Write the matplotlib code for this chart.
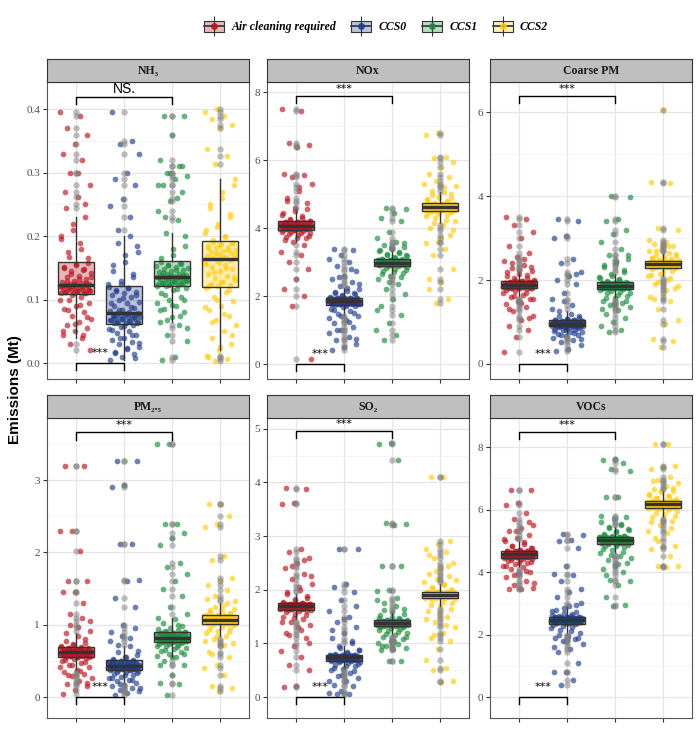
import numpy as np
import matplotlib
matplotlib.use('Agg')
import matplotlib.pyplot as plt
from matplotlib.patches import Patch
from matplotlib.lines import Line2D
from matplotlib.legend_handler import HandlerTuple
from matplotlib.ticker import FixedLocator, MultipleLocator

plt.rcParams['font.family'] = ['Liberation Serif', 'DejaVu Serif']

SCENARIOS = ['Air cleaning required', 'CCS0', 'CCS1', 'CCS2']
POLLUTANTS = ['NH₃', 'NOx', 'Coarse PM', 'PM₂.₅', 'SO₂', 'VOCs']
COLORS = ['#B8141F', '#1F3C8C', '#1A8A3C', '#FFCC11']

# ---------------- data (Mt) ----------------
NH3_AIR = [0.395, 0.39, 0.37, 0.36, 0.345, 0.33, 0.32, 0.30, 0.28, 0.262, 0.245, 0.23, 0.21, 0.195, 0.18, 0.168,
           0.158, 0.155, 0.152, 0.148, 0.145, 0.142, 0.138, 0.135, 0.132, 0.13, 0.128, 0.126, 0.125, 0.124, 0.124, 0.123,
           0.123, 0.122, 0.121, 0.12, 0.12, 0.119, 0.118, 0.117, 0.116, 0.115, 0.114, 0.113, 0.112, 0.111, 0.110, 0.110,
           0.105, 0.10, 0.095, 0.09, 0.085, 0.08, 0.075, 0.07, 0.065, 0.06, 0.055, 0.05, 0.045, 0.04, 0.03, 0.02,
           0.30, 0.27, 0.25, 0.22, 0.2, 0.19, 0.175, 0.165,
           0.157, 0.15, 0.146, 0.14, 0.136, 0.133, 0.129, 0.127, 0.124, 0.122, 0.12, 0.118, 0.116, 0.114, 0.112, 0.111,
           0.108, 0.1, 0.092, 0.083, 0.072, 0.062, 0.05, 0.045]
NH3_CCS0 = [0.395, 0.35, 0.345, 0.33, 0.30, 0.29, 0.28, 0.258, 0.248, 0.20, 0.19, 0.175, 0.16, 0.145, 0.135, 0.125,
            0.12, 0.118, 0.115, 0.112, 0.11, 0.107, 0.104, 0.1, 0.097, 0.094, 0.09, 0.087, 0.084, 0.082, 0.08, 0.079,
            0.078, 0.077, 0.076, 0.075, 0.074, 0.073, 0.072, 0.071, 0.07, 0.069, 0.068, 0.067, 0.066, 0.065, 0.064, 0.063,
            0.06, 0.057, 0.054, 0.05, 0.047, 0.044, 0.04, 0.037, 0.034, 0.03, 0.026, 0.022, 0.018, 0.014, 0.01, 0.005,
            0.23, 0.21, 0.185, 0.17, 0.155, 0.14, 0.13, 0.124,
            0.119, 0.113, 0.108, 0.102, 0.095, 0.088, 0.083, 0.079, 0.077, 0.075, 0.072, 0.07, 0.068, 0.066, 0.064, 0.063,
            0.058, 0.052, 0.045, 0.039, 0.032, 0.024, 0.016, 0.008]
NH3_CCS1 = [0.39, 0.39, 0.36, 0.32, 0.31, 0.30, 0.295, 0.29, 0.28, 0.27, 0.255, 0.24, 0.225, 0.205, 0.185, 0.17,
            0.159, 0.157, 0.155, 0.153, 0.151, 0.149, 0.147, 0.145, 0.143, 0.141, 0.14, 0.139, 0.138, 0.138, 0.137, 0.137,
            0.136, 0.136, 0.135, 0.134, 0.133, 0.132, 0.131, 0.13, 0.129, 0.128, 0.127, 0.126, 0.125, 0.124, 0.123, 0.122,
            0.118, 0.115, 0.11, 0.105, 0.10, 0.095, 0.09, 0.085, 0.08, 0.072, 0.065, 0.06, 0.045, 0.035, 0.01, 0.005,
            0.31, 0.30, 0.28, 0.26, 0.23, 0.2, 0.18, 0.165,
            0.158, 0.154, 0.15, 0.146, 0.142, 0.139, 0.137, 0.136, 0.135, 0.133, 0.131, 0.129, 0.127, 0.125, 0.123, 0.122,
            0.117, 0.108, 0.1, 0.092, 0.083, 0.075, 0.068, 0.055]
NH3_CCS2 = [0.40, 0.395, 0.39, 0.385, 0.375, 0.37, 0.338, 0.327, 0.314, 0.29, 0.27, 0.25, 0.235, 0.22, 0.21, 0.20,
            0.191, 0.189, 0.187, 0.185, 0.183, 0.181, 0.179, 0.177, 0.175, 0.173, 0.171, 0.169, 0.167, 0.166, 0.165, 0.164,
            0.164, 0.163, 0.161, 0.158, 0.155, 0.152, 0.149, 0.145, 0.141, 0.137, 0.134, 0.131, 0.128, 0.125, 0.123, 0.121,
            0.118, 0.112, 0.105, 0.098, 0.09, 0.083, 0.075, 0.068, 0.06, 0.05, 0.04, 0.03, 0.02, 0.012, 0.006, 0.004,
            0.28, 0.26, 0.245, 0.23, 0.215, 0.205, 0.198, 0.194,
            0.19, 0.186, 0.182, 0.178, 0.174, 0.17, 0.167, 0.165, 0.163, 0.16, 0.156, 0.15, 0.143, 0.135, 0.128, 0.122,
            0.115, 0.1, 0.088, 0.078, 0.065, 0.045, 0.025, 0.01]

NOX_AIR = [7.5, 7.45, 6.5, 6.45, 6.4, 5.6, 5.55, 5.5, 5.3, 5.1, 4.9, 4.75, 4.6, 4.45, 4.35, 4.25,
           4.2, 4.19, 4.18, 4.17, 4.16, 4.15, 4.14, 4.13, 4.12, 4.11, 4.1, 4.09, 4.08, 4.08, 4.07, 4.07,
           4.06, 4.06, 4.05, 4.04, 4.03, 4.02, 4.01, 4.0, 3.99, 3.98, 3.98, 3.97, 3.96, 3.96, 3.95, 3.95,
           3.92, 3.88, 3.85, 3.8, 3.75, 3.7, 3.6, 3.3, 3.2, 3.0, 2.8, 2.5, 2.2, 2.0, 1.7, 0.15,
           5.2, 4.8, 4.55, 4.5, 4.4, 4.3, 4.28, 4.22,
           4.19, 4.17, 4.15, 4.13, 4.11, 4.09, 4.08, 4.07, 4.06, 4.05, 4.03, 4.01, 3.99, 3.98, 3.97, 3.96,
           3.93, 3.9, 3.87, 3.82, 3.78, 3.72, 3.65, 3.5]
NOX_CCS0 = [3.4, 3.35, 3.2, 3.1, 3.0, 2.9, 2.75, 2.6, 2.5, 2.4, 2.3, 2.2, 2.15, 2.1, 2.05, 2.0,
            1.95, 1.945, 1.94, 1.935, 1.93, 1.92, 1.91, 1.9, 1.9, 1.89, 1.88, 1.88, 1.87, 1.87, 1.86, 1.86,
            1.86, 1.85, 1.85, 1.84, 1.83, 1.82, 1.81, 1.8, 1.79, 1.78, 1.78, 1.77, 1.77, 1.76, 1.76, 1.75,
            1.72, 1.68, 1.62, 1.55, 1.48, 1.4, 1.3, 1.2, 1.1, 1.0, 0.9, 0.8, 0.7, 0.6, 0.5, 0.4,
            2.8, 2.55, 2.35, 2.25, 2.12, 2.08, 2.02, 1.98,
            1.95, 1.94, 1.92, 1.91, 1.9, 1.89, 1.87, 1.86, 1.86, 1.85, 1.84, 1.82, 1.8, 1.79, 1.77, 1.76,
            1.7, 1.6, 1.5, 1.42, 1.35, 1.25, 1.0, 0.75]
NOX_CCS1 = [4.6, 4.55, 4.45, 4.3, 4.2, 3.9, 3.7, 3.6, 3.5, 3.45, 3.4, 3.35, 3.3, 3.25, 3.18, 3.12,
            3.08, 3.07, 3.07, 3.06, 3.05, 3.04, 3.04, 3.03, 3.02, 3.01, 3.0, 3.0, 2.99, 2.99, 2.98, 2.98,
            2.98, 2.97, 2.97, 2.96, 2.96, 2.95, 2.95, 2.94, 2.94, 2.93, 2.93, 2.92, 2.92, 2.91, 2.91, 2.9,
            2.85, 2.8, 2.75, 2.68, 2.6, 2.5, 2.35, 2.2, 2.05, 1.9, 1.7, 1.45, 1.2, 1.0, 0.85, 0.7,
            3.55, 3.42, 3.32, 3.28, 3.22, 3.2, 3.15, 3.1,
            3.08, 3.06, 3.05, 3.03, 3.02, 3.0, 2.99, 2.98, 2.98, 2.97, 2.96, 2.95, 2.94, 2.93, 2.92, 2.91,
            2.88, 2.82, 2.78, 2.7, 2.65, 2.55, 2.4, 1.6]
NOX_CCS2 = [6.8, 6.75, 6.1, 6.05, 5.95, 5.8, 5.6, 5.5, 5.4, 5.3, 5.2, 5.1, 5.0, 4.95, 4.85, 4.78,
            4.72, 4.71, 4.7, 4.7, 4.69, 4.68, 4.67, 4.66, 4.66, 4.65, 4.64, 4.63, 4.63, 4.62, 4.62, 4.61,
            4.61, 4.6, 4.6, 4.59, 4.58, 4.57, 4.56, 4.55, 4.55, 4.54, 4.53, 4.52, 4.52, 4.51, 4.51, 4.5,
            4.45, 4.4, 4.3, 4.2, 4.1, 4.0, 3.8, 3.6, 3.55, 3.4, 3.2, 2.8, 2.4, 2.2, 1.9, 1.8,
            5.25, 5.05, 4.98, 4.9, 4.88, 4.82, 4.8, 4.75,
            4.72, 4.7, 4.69, 4.67, 4.65, 4.64, 4.62, 4.61, 4.6, 4.59, 4.57, 4.55, 4.54, 4.53, 4.52, 4.5,
            4.48, 4.42, 4.35, 4.25, 4.15, 3.95, 3.7, 2.5]

CPM_AIR = [3.5, 3.45, 3.3, 3.15, 3.0, 2.8, 2.65, 2.55, 2.45, 2.35, 2.28, 2.22, 2.15, 2.1, 2.05, 2.0,
           1.98, 1.97, 1.96, 1.95, 1.95, 1.94, 1.93, 1.92, 1.92, 1.91, 1.9, 1.9, 1.89, 1.89, 1.88, 1.88,
           1.88, 1.87, 1.87, 1.86, 1.86, 1.85, 1.85, 1.84, 1.84, 1.83, 1.83, 1.83, 1.82, 1.82, 1.82, 1.82,
           1.78, 1.74, 1.7, 1.65, 1.6, 1.55, 1.5, 1.42, 1.35, 1.25, 1.15, 1.05, 0.9, 0.8, 0.65, 0.28,
           2.5, 2.4, 2.3, 2.25, 2.18, 2.12, 2.05, 2.01,
           1.98, 1.96, 1.95, 1.93, 1.92, 1.9, 1.89, 1.88, 1.88, 1.87, 1.86, 1.85, 1.84, 1.83, 1.82, 1.82,
           1.8, 1.75, 1.7, 1.62, 1.55, 1.45, 1.3, 1.1]
CPM_CCS0 = [3.45, 3.4, 3.05, 3.0, 2.5, 2.4, 2.2, 2.1, 2.0, 1.9, 1.7, 1.55, 1.4, 1.25, 1.15, 1.08,
            1.04, 1.035, 1.03, 1.025, 1.02, 1.01, 1.0, 1.0, 0.99, 0.99, 0.98, 0.98, 0.97, 0.97, 0.965, 0.96,
            0.96, 0.955, 0.95, 0.95, 0.94, 0.94, 0.93, 0.93, 0.92, 0.92, 0.915, 0.91, 0.91, 0.905, 0.9, 0.9,
            0.88, 0.86, 0.84, 0.82, 0.8, 0.77, 0.75, 0.72, 0.7, 0.66, 0.62, 0.58, 0.52, 0.45, 0.35, 0.3,
            2.15, 1.5, 1.3, 1.2, 1.15, 1.1, 1.07, 1.05,
            1.04, 1.03, 1.02, 1.01, 1.0, 0.99, 0.98, 0.97, 0.96, 0.95, 0.94, 0.93, 0.92, 0.91, 0.9, 0.9,
            0.89, 0.87, 0.85, 0.82, 0.78, 0.74, 0.68, 0.6]
CPM_CCS1 = [4.0, 3.98, 3.45, 3.4, 3.2, 3.1, 2.9, 2.75, 2.6, 2.5, 2.4, 2.3, 2.2, 2.1, 2.05, 2.0,
            1.95, 1.94, 1.94, 1.93, 1.92, 1.92, 1.91, 1.9, 1.9, 1.89, 1.89, 1.88, 1.88, 1.87, 1.87, 1.86,
            1.86, 1.86, 1.85, 1.85, 1.84, 1.84, 1.83, 1.83, 1.82, 1.82, 1.81, 1.81, 1.81, 1.8, 1.8, 1.8,
            1.76, 1.72, 1.68, 1.62, 1.56, 1.5, 1.45, 1.4, 1.35, 1.28, 1.2, 1.1, 1.0, 0.9, 0.82, 0.75,
            2.6, 2.45, 2.35, 2.25, 2.15, 2.08, 2.02, 1.97,
            1.95, 1.94, 1.92, 1.91, 1.9, 1.89, 1.88, 1.87, 1.86, 1.85, 1.84, 1.83, 1.82, 1.81, 1.8, 1.8,
            1.78, 1.74, 1.7, 1.64, 1.58, 1.5, 1.42, 1.3]
CPM_CCS2 = [6.05, 4.33, 4.32, 3.25, 3.2, 2.9, 2.85, 2.8, 2.75, 2.7, 2.65, 2.6, 2.58, 2.55, 2.52, 2.48,
            2.45, 2.45, 2.44, 2.44, 2.43, 2.43, 2.42, 2.42, 2.41, 2.41, 2.4, 2.4, 2.39, 2.39, 2.385, 2.38,
            2.38, 2.375, 2.37, 2.37, 2.36, 2.36, 2.35, 2.35, 2.34, 2.34, 2.33, 2.33, 2.32, 2.31, 2.31, 2.3,
            2.26, 2.22, 2.15, 2.1, 2.0, 1.9, 1.8, 1.7, 1.6, 1.5, 1.3, 1.05, 0.95, 0.6, 0.55, 0.4,
            2.95, 2.8, 2.7, 2.62, 2.56, 2.52, 2.5, 2.47,
            2.45, 2.44, 2.43, 2.42, 2.41, 2.4, 2.39, 2.38, 2.38, 2.37, 2.36, 2.35, 2.34, 2.33, 2.32, 2.3,
            2.28, 2.2, 2.12, 2.05, 1.95, 1.85, 1.75, 1.55]

PM25_AIR = [3.2, 3.2, 2.3, 2.3, 2.02, 1.6, 1.6, 1.45, 1.45, 1.3, 1.15, 1.05, 0.97, 0.88, 0.8, 0.73,
            0.69, 0.685, 0.68, 0.675, 0.67, 0.665, 0.66, 0.655, 0.65, 0.645, 0.64, 0.635, 0.63, 0.63, 0.625, 0.62,
            0.62, 0.615, 0.61, 0.605, 0.6, 0.6, 0.595, 0.59, 0.585, 0.58, 0.58, 0.575, 0.57, 0.565, 0.56, 0.56,
            0.54, 0.52, 0.5, 0.47, 0.44, 0.41, 0.38, 0.35, 0.32, 0.29, 0.26, 0.22, 0.18, 0.15, 0.1, 0.04,
            1.1, 1.0, 0.92, 0.85, 0.78, 0.75, 0.72, 0.7,
            0.69, 0.68, 0.67, 0.66, 0.65, 0.64, 0.63, 0.62, 0.62, 0.61, 0.6, 0.59, 0.58, 0.57, 0.565, 0.56,
            0.55, 0.51, 0.48, 0.45, 0.42, 0.36, 0.3, 0.2]
PM25_CCS0 = [3.27, 3.27, 2.93, 2.9, 2.12, 2.12, 1.62, 1.6, 1.37, 1.25, 1.0, 0.9, 0.82, 0.72, 0.64, 0.56,
             0.51, 0.505, 0.5, 0.49, 0.485, 0.48, 0.47, 0.465, 0.46, 0.455, 0.45, 0.445, 0.44, 0.435, 0.435, 0.43,
             0.43, 0.425, 0.42, 0.42, 0.415, 0.41, 0.405, 0.4, 0.4, 0.395, 0.39, 0.39, 0.385, 0.385, 0.38, 0.38,
             0.36, 0.34, 0.32, 0.3, 0.28, 0.26, 0.24, 0.22, 0.2, 0.17, 0.15, 0.12, 0.1, 0.08, 0.05, 0.03,
             0.95, 0.85, 0.78, 0.7, 0.62, 0.58, 0.55, 0.52,
             0.51, 0.5, 0.49, 0.48, 0.47, 0.46, 0.45, 0.44, 0.43, 0.43, 0.42, 0.41, 0.4, 0.39, 0.385, 0.38,
             0.37, 0.35, 0.33, 0.3, 0.27, 0.23, 0.18, 0.12]
PM25_CCS1 = [3.5, 3.5, 2.4, 2.4, 2.27, 2.2, 2.1, 1.85, 1.8, 1.7, 1.6, 1.5, 1.4, 1.25, 1.1, 1.0,
             0.9, 0.895, 0.89, 0.885, 0.88, 0.875, 0.87, 0.86, 0.855, 0.85, 0.845, 0.84, 0.835, 0.83, 0.82, 0.815,
             0.81, 0.805, 0.8, 0.8, 0.795, 0.79, 0.79, 0.785, 0.78, 0.78, 0.775, 0.77, 0.77, 0.765, 0.76, 0.76,
             0.74, 0.72, 0.7, 0.68, 0.66, 0.64, 0.62, 0.6, 0.57, 0.55, 0.5, 0.45, 0.3, 0.2, 0.18, 0.03,
             1.15, 1.08, 1.02, 0.98, 0.96, 0.94, 0.93, 0.91,
             0.9, 0.89, 0.88, 0.87, 0.86, 0.85, 0.84, 0.83, 0.82, 0.81, 0.8, 0.79, 0.78, 0.77, 0.765, 0.76,
             0.75, 0.73, 0.71, 0.69, 0.65, 0.6, 0.55, 0.45]
PM25_CCS2 = [2.67, 2.67, 2.5, 2.4, 2.35, 1.95, 1.9, 1.65, 1.6, 1.55, 1.48, 1.4, 1.33, 1.26, 1.2, 1.16,
             1.13, 1.125, 1.12, 1.115, 1.11, 1.105, 1.1, 1.1, 1.095, 1.09, 1.09, 1.085, 1.08, 1.08, 1.075, 1.07,
             1.07, 1.065, 1.06, 1.06, 1.055, 1.05, 1.05, 1.045, 1.04, 1.04, 1.035, 1.03, 1.025, 1.02, 1.015, 1.01,
             0.98, 0.95, 0.92, 0.88, 0.84, 0.8, 0.75, 0.7, 0.62, 0.55, 0.45, 0.4, 0.3, 0.15, 0.13, 0.08,
             1.35, 1.3, 1.25, 1.22, 1.19, 1.17, 1.15, 1.14,
             1.13, 1.12, 1.11, 1.1, 1.09, 1.085, 1.08, 1.075, 1.07, 1.065, 1.06, 1.05, 1.04, 1.03, 1.02, 1.01,
             1.0, 0.97, 0.93, 0.9, 0.85, 0.78, 0.72, 0.6]

SO2_AIR = [3.9, 3.88, 3.62, 3.6, 2.75, 2.7, 2.6, 2.5, 2.4, 2.3, 2.2, 2.1, 2.0, 1.92, 1.85, 1.79,
           1.75, 1.745, 1.74, 1.74, 1.735, 1.73, 1.73, 1.725, 1.72, 1.72, 1.715, 1.71, 1.71, 1.705, 1.705, 1.7,
           1.7, 1.695, 1.69, 1.69, 1.685, 1.68, 1.68, 1.675, 1.67, 1.665, 1.66, 1.655, 1.65, 1.645, 1.64, 1.63,
           1.6, 1.55, 1.5, 1.45, 1.4, 1.35, 1.3, 1.2, 1.1, 0.95, 0.85, 0.75, 0.6, 0.5, 0.2, 0.18,
           2.55, 2.45, 2.25, 2.05, 1.95, 1.88, 1.82, 1.77,
           1.75, 1.74, 1.73, 1.72, 1.72, 1.71, 1.705, 1.7, 1.7, 1.69, 1.68, 1.67, 1.66, 1.65, 1.64, 1.63,
           1.61, 1.58, 1.52, 1.47, 1.4, 1.25, 1.15, 1.0]
SO2_CCS0 = [2.76, 2.75, 2.1, 2.05, 1.95, 1.8, 1.6, 1.5, 1.4, 1.3, 1.2, 1.1, 1.0, 0.92, 0.87, 0.82,
            0.79, 0.785, 0.78, 0.78, 0.775, 0.77, 0.77, 0.765, 0.76, 0.76, 0.755, 0.75, 0.75, 0.745, 0.745, 0.74,
            0.74, 0.735, 0.73, 0.73, 0.725, 0.72, 0.715, 0.71, 0.705, 0.7, 0.7, 0.695, 0.69, 0.69, 0.685, 0.68,
            0.66, 0.63, 0.6, 0.57, 0.53, 0.5, 0.45, 0.4, 0.35, 0.3, 0.22, 0.2, 0.12, 0.08, 0.05, 0.05,
            1.7, 1.45, 1.25, 1.05, 0.95, 0.88, 0.84, 0.8,
            0.79, 0.78, 0.775, 0.77, 0.76, 0.755, 0.75, 0.745, 0.74, 0.735, 0.73, 0.72, 0.71, 0.7, 0.69, 0.68,
            0.67, 0.65, 0.62, 0.58, 0.55, 0.48, 0.42, 0.3]
SO2_CCS1 = [4.74, 4.72, 4.42, 3.25, 3.22, 3.2, 2.45, 2.44, 2.0, 1.98, 1.85, 1.75, 1.65, 1.58, 1.52, 1.47,
            1.43, 1.425, 1.42, 1.42, 1.415, 1.41, 1.41, 1.405, 1.4, 1.4, 1.395, 1.39, 1.39, 1.385, 1.385, 1.38,
            1.38, 1.375, 1.37, 1.37, 1.365, 1.36, 1.36, 1.355, 1.35, 1.345, 1.34, 1.335, 1.33, 1.33, 1.325, 1.32,
            1.3, 1.27, 1.24, 1.2, 1.16, 1.12, 1.08, 1.04, 1.0, 0.98, 0.95, 0.92, 0.9, 0.88, 0.68, 0.67,
            1.8, 1.7, 1.62, 1.55, 1.5, 1.48, 1.46, 1.44,
            1.43, 1.42, 1.415, 1.41, 1.4, 1.395, 1.39, 1.385, 1.38, 1.375, 1.37, 1.36, 1.35, 1.34, 1.33, 1.32,
            1.31, 1.28, 1.25, 1.22, 1.18, 1.12, 1.05, 0.95]
SO2_CCS2 = [4.1, 4.1, 2.9, 2.85, 2.75, 2.7, 2.6, 2.5, 2.4, 2.3, 2.25, 2.2, 2.15, 2.1, 2.05, 2.0,
            1.96, 1.955, 1.95, 1.95, 1.945, 1.94, 1.94, 1.935, 1.93, 1.93, 1.925, 1.92, 1.92, 1.915, 1.915, 1.91,
            1.91, 1.905, 1.9, 1.9, 1.895, 1.89, 1.89, 1.885, 1.88, 1.875, 1.87, 1.865, 1.86, 1.86, 1.855, 1.85,
            1.8, 1.75, 1.7, 1.6, 1.5, 1.4, 1.3, 1.2, 1.1, 1.05, 0.9, 0.7, 0.55, 0.5, 0.3, 0.29,
            2.65, 2.45, 2.35, 2.18, 2.08, 2.03, 1.99, 1.97,
            1.96, 1.95, 1.945, 1.94, 1.93, 1.925, 1.92, 1.915, 1.91, 1.905, 1.9, 1.89, 1.88, 1.87, 1.86, 1.85,
            1.82, 1.78, 1.72, 1.65, 1.55, 1.45, 1.35, 1.15]

VOC_AIR = [6.64, 6.62, 6.2, 6.15, 5.9, 5.7, 5.5, 5.4, 5.3, 5.2, 5.1, 5.0, 4.95, 4.85, 4.78, 4.72,
           4.67, 4.66, 4.66, 4.65, 4.64, 4.63, 4.63, 4.62, 4.61, 4.61, 4.6, 4.59, 4.59, 4.58, 4.57, 4.57,
           4.56, 4.55, 4.55, 4.54, 4.53, 4.53, 4.52, 4.51, 4.51, 4.5, 4.49, 4.49, 4.48, 4.47, 4.47, 4.46,
           4.42, 4.38, 4.35, 4.3, 4.25, 4.2, 4.15, 4.1, 4.0, 3.95, 3.85, 3.7, 3.6, 3.5, 3.47, 3.45,
           5.6, 5.3, 5.05, 4.9, 4.82, 4.76, 4.72, 4.69,
           4.67, 4.66, 4.65, 4.63, 4.62, 4.6, 4.59, 4.57, 4.56, 4.55, 4.53, 4.51, 4.5, 4.48, 4.47, 4.46,
           4.43, 4.4, 4.33, 4.28, 4.18, 4.05, 3.9, 3.65]
VOC_CCS0 = [5.21, 5.2, 5.02, 4.98, 4.78, 4.2, 3.95, 3.9, 3.7, 3.45, 3.35, 3.2, 2.95, 2.85, 2.75, 2.65,
            2.57, 2.56, 2.56, 2.55, 2.54, 2.53, 2.53, 2.52, 2.51, 2.51, 2.5, 2.49, 2.49, 2.48, 2.48, 2.47,
            2.47, 2.46, 2.45, 2.45, 2.44, 2.43, 2.43, 2.42, 2.41, 2.4, 2.4, 2.39, 2.38, 2.38, 2.37, 2.36,
            2.3, 2.25, 2.15, 2.05, 1.95, 1.9, 1.85, 1.8, 1.7, 1.55, 1.45, 1.1, 0.8, 0.8, 0.55, 0.38,
            3.0, 2.9, 2.8, 2.72, 2.68, 2.62, 2.6, 2.58,
            2.57, 2.56, 2.55, 2.54, 2.52, 2.51, 2.5, 2.48, 2.47, 2.46, 2.44, 2.42, 2.4, 2.39, 2.37, 2.36,
            2.33, 2.28, 2.2, 2.1, 2.0, 1.9, 1.8, 1.6]
VOC_CCS1 = [7.63, 7.6, 7.5, 7.3, 7.25, 6.4, 6.4, 5.75, 5.7, 5.6, 5.5, 5.4, 5.35, 5.3, 5.22, 5.17,
            5.13, 5.12, 5.12, 5.11, 5.1, 5.09, 5.09, 5.08, 5.07, 5.06, 5.06, 5.05, 5.04, 5.04, 5.03, 5.03,
            5.02, 5.01, 5.0, 5.0, 4.99, 4.98, 4.98, 4.97, 4.96, 4.95, 4.95, 4.94, 4.93, 4.93, 4.92, 4.91,
            4.85, 4.8, 4.7, 4.6, 4.5, 4.4, 4.3, 4.2, 4.1, 4.0, 3.75, 3.7, 3.6, 3.2, 2.95, 2.91,
            5.8, 5.55, 5.45, 5.38, 5.28, 5.2, 5.16, 5.14,
            5.13, 5.12, 5.1, 5.09, 5.07, 5.06, 5.04, 5.03, 5.02, 5.01, 4.99, 4.97, 4.95, 4.94, 4.92, 4.91,
            4.88, 4.83, 4.75, 4.65, 4.55, 4.45, 4.25, 3.9]
VOC_CCS2 = [8.1, 8.1, 7.4, 7.35, 7.3, 7.05, 6.95, 6.85, 6.75, 6.65, 6.6, 6.55, 6.48, 6.42, 6.36, 6.31,
            6.27, 6.26, 6.26, 6.25, 6.24, 6.23, 6.23, 6.22, 6.21, 6.21, 6.2, 6.19, 6.19, 6.18, 6.18, 6.17,
            6.17, 6.16, 6.15, 6.15, 6.14, 6.13, 6.13, 6.12, 6.11, 6.1, 6.1, 6.09, 6.08, 6.08, 6.07, 6.06,
            6.02, 5.95, 5.85, 5.75, 5.65, 5.5, 5.3, 5.25, 5.1, 4.85, 4.8, 4.75, 4.5, 4.2, 4.18, 4.15,
            6.9, 6.7, 6.58, 6.5, 6.45, 6.38, 6.33, 6.29,
            6.27, 6.26, 6.25, 6.24, 6.22, 6.21, 6.2, 6.18, 6.17, 6.16, 6.14, 6.12, 6.1, 6.09, 6.07, 6.06,
            6.04, 5.98, 5.9, 5.8, 5.7, 5.6, 5.4, 5.0]

PANEL_DATA = [
    [NH3_AIR, NH3_CCS0, NH3_CCS1, NH3_CCS2],
    [NOX_AIR, NOX_CCS0, NOX_CCS1, NOX_CCS2],
    [CPM_AIR, CPM_CCS0, CPM_CCS1, CPM_CCS2],
    [PM25_AIR, PM25_CCS0, PM25_CCS1, PM25_CCS2],
    [SO2_AIR, SO2_CCS0, SO2_CCS1, SO2_CCS2],
    [VOC_AIR, VOC_CCS0, VOC_CCS1, VOC_CCS2],
]
TOP_SIG = ['NS.', '***', '***', '***', '***', '***']
BOTTOM_SIG = ['***', '***', '***', '***', '***', '***']
Y_TICKS = [[0.0, 0.1, 0.2, 0.3, 0.4], [0, 2, 4, 6, 8], [0, 2, 4, 6],
           [0, 1, 2, 3], [0, 1, 2, 3, 4, 5], [0, 2, 4, 6, 8]]
Y_TICK_LABELS = [['0.0', '0.1', '0.2', '0.3', '0.4'], ['0', '2', '4', '6', '8'], ['0', '2', '4', '6'],
                 ['0', '1', '2', '3'], ['0', '1', '2', '3', '4', '5'], ['0', '2', '4', '6', '8']]

# ---------------- layout (style) ----------------
Y_LIMS = [(-0.025, 0.443), (-0.44, 8.3), (-0.36, 6.72), (-0.29, 3.86), (-0.39, 5.2), (-0.67, 8.93)]
BRACKET_Y = [0.42, 7.88, 6.38, 3.66, 4.96, 8.48]

W, H = 700, 748
fig = plt.figure(figsize=(W / 100, H / 100), dpi=100)
COLS = [(47, 249), (267, 469), (490, 692)]
ROWS = [(59, 82, 379), (395, 418, 718)]


def px_axes(l, t, r, b):
    return fig.add_axes([l / W, 1 - b / H, (r - l) / W, (b - t) / H])


def jitter(n, shift):
    return ((np.arange(n) * 0.6180339887 + shift) % 1.0 - 0.5) * 0.66


DARK = '#333333'
positions = [1, 2, 3, 4]
for i, groups in enumerate(PANEL_DATA):
    r, c = divmod(i, 3)
    l, rr = COLS[c]
    st, t, b = ROWS[r]
    ax = px_axes(l, t, rr, b)
    sax = px_axes(l, st, rr, t)

    # strip
    sax.set_facecolor('#BFBFBF')
    sax.set_xticks([]); sax.set_yticks([])
    for sp in sax.spines.values():
        sp.set_color(DARK); sp.set_linewidth(0.8)
    sax.text(0.5, 0.5, POLLUTANTS[i], ha='center', va='center', fontsize=8.5,
             fontweight='bold', color='#1A1A1A', transform=sax.transAxes)

    # jittered points
    for k, (vals, col) in enumerate(zip(groups, COLORS)):
        v = np.asarray(vals)
        ax.scatter(positions[k] + jitter(len(v), 0.13 * k + 0.05 * i), v, s=17, color=col,
                   alpha=0.65, linewidths=0, zorder=2)

    bp = ax.boxplot(groups, positions=positions, widths=0.75, patch_artist=True, showcaps=False,
                    medianprops=dict(color=DARK, lw=2.4, solid_capstyle='butt'),
                    whiskerprops=dict(color=DARK, lw=1.0),
                    boxprops=dict(edgecolor=DARK, lw=1.0),
                    flierprops=dict(marker='o', markerfacecolor='#7F7F7F', markeredgecolor='none',
                                    alpha=0.5, markersize=4.6),
                    zorder=3)
    for patch, col in zip(bp['boxes'], COLORS):
        patch.set_facecolor(matplotlib.colors.to_rgba(col, 0.3))

    y0, y1 = Y_LIMS[i]
    ax.set_xlim(0.4, 4.6)
    ax.set_ylim(y0, y1)
    ax.yaxis.set_major_locator(FixedLocator(Y_TICKS[i]))
    ax.set_yticklabels(Y_TICK_LABELS[i])
    step = Y_TICKS[i][1] - Y_TICKS[i][0]
    ax.yaxis.set_minor_locator(MultipleLocator(step / 2))
    ax.set_xticks(positions)
    ax.set_xticklabels([''] * 4)
    ax.set_axisbelow(True)
    ax.grid(which='major', color='#E5E5E5', lw=0.9, zorder=0)
    ax.grid(which='minor', axis='y', color='#F0F0F0', lw=0.5, zorder=0)
    ax.tick_params(which='major', direction='out', length=3, width=0.8, color=DARK,
                   labelsize=8, labelcolor='#4D4D4D', pad=2)
    ax.tick_params(which='minor', length=0)
    for sp in ax.spines.values():
        sp.set_color('#555555'); sp.set_linewidth(0.8)

    # significance brackets
    leg = 0.024 * (y1 - y0)
    yb = BRACKET_Y[i]
    ax.plot([1, 1, 3, 3], [yb - leg, yb, yb, yb - leg], color='black', lw=1.0, zorder=5)
    if TOP_SIG[i] == 'NS.':
        ax.annotate(TOP_SIG[i], (2, yb), xytext=(0, 0.5), textcoords='offset points', ha='center',
                    va='bottom', fontsize=10, family=['Liberation Sans', 'DejaVu Sans'], zorder=6)
    else:
        ax.annotate(TOP_SIG[i], (2, yb), xytext=(0, 1.5), textcoords='offset points', ha='center',
                    va='bottom', fontsize=8, family=['DejaVu Sans'], zorder=6)
    ax.plot([1, 1, 2, 2], [0 - leg, 0, 0, 0 - leg], color='black', lw=1.0, zorder=5)
    ax.annotate(BOTTOM_SIG[i], (1.5, 0), xytext=(0, 3.5), textcoords='offset points', ha='center',
                va='bottom', fontsize=8, family=['DejaVu Sans'], zorder=6)

# y label
fig.text(15 / W, 1 - 390 / H, 'Emissions (Mt)', rotation=90, ha='center', va='center',
         fontsize=11, fontweight='bold', family=['Liberation Sans', 'DejaVu Sans'])

# legend
handles = []
for col in COLORS:
    handles.append((Patch(facecolor=matplotlib.colors.to_rgba(col, 0.3), edgecolor=DARK, lw=0.8),
                    Line2D([], [], color=DARK, lw=1.2),
                    Line2D([], [], linestyle='none', marker='|', markersize=15, color=DARK, mew=0.8),
                    Line2D([], [], linestyle='none', marker='o', markersize=4, color=col, alpha=0.8)))
fig.legend(handles, SCENARIOS, loc='center', bbox_to_anchor=(376 / W, 1 - 27 / H), ncol=4,
           frameon=False, handler_map={tuple: HandlerTuple(ndivide=1, pad=0)},
           prop=dict(family=['Liberation Serif', 'DejaVu Serif'], weight='bold', style='italic', size=8.5),
           handlelength=1.7, handleheight=1.1, columnspacing=1.3, handletextpad=0.6)

fig.savefig('out.png', dpi=100)
